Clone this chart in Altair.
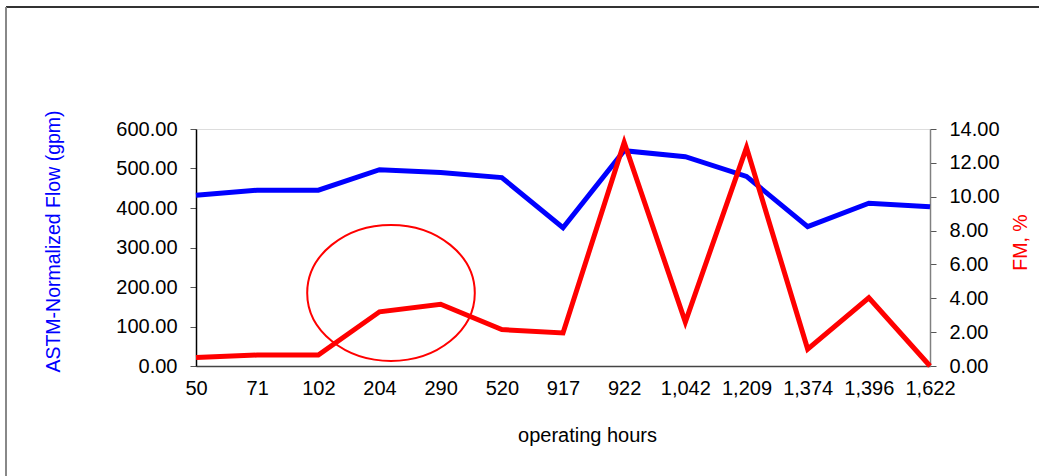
import altair as alt
import pandas as pd

hours = ["50", "71", "102", "204", "290", "520", "917", "922", "1,042", "1,209", "1,374", "1,396", "1,622"]
flow = [432, 445, 445, 497, 490, 477, 350, 545, 530, 480, 353, 412, 403]
fm = [0.50, 0.65, 0.65, 3.20, 3.65, 2.15, 1.95, 13.20, 2.60, 12.90, 1.00, 4.03, 0.00]

# annotation ellipse (data position)
ell_x = ["204"]
ell_y = [185]

df = pd.DataFrame({"hours": hours, "flow": flow, "fm": fm})
ell = pd.DataFrame({"hours": ell_x, "flow": ell_y})
frame_top = pd.DataFrame({"a": [0]})

FONT = "Liberation Sans"
FS = 20

xaxis = alt.Axis(title="operating hours", labelAngle=0, ticks=False,
                 labelOverlap=False,
                 domainColor="#444444", domainWidth=1.5, labelPadding=12,
                 labelFontSize=FS, labelFont=FONT, labelColor="black",
                 titleFontSize=FS, titleFont=FONT, titleFontWeight="normal",
                 titleColor="black", titleX=391, titleY=75,
                 titleBaseline="alphabetic", titleAnchor="start", titleAlign="center")
xscale = alt.Scale(type="point", padding=0)

yleft_axis = alt.Axis(orient="left", title="ASTM-Normalized Flow (gpm)",
                      values=[0, 100, 200, 300, 400, 500, 600], format=".2f",
                      labelOverlap=False, tickCount=7,
                      grid=False, domainColor="black", domainWidth=1.5,
                      tickColor="#555555", tickSize=6, labelPadding=13,
                      labelFontSize=FS, labelFont=FONT, labelColor="black",
                      titleFontSize=19.5, titleFont=FONT, titleFontWeight="normal",
                      titleColor="#0000FF", titleAngle=270, titleX=-143, titleY=112,
                      titleBaseline="middle", titleAlign="center")
yleft_scale = alt.Scale(domain=[0, 600], nice=False)

blue = alt.Chart(df).mark_line(color="#0000FF", strokeWidth=5).encode(
    x=alt.X("hours:N", sort=hours, scale=xscale, axis=xaxis),
    y=alt.Y("flow:Q", scale=yleft_scale, axis=yleft_axis),
)

ellipse = alt.Chart(ell).mark_point(
    shape="M -1 0 A 1 0.811 0 1 0 1 0 A 1 0.811 0 1 0 -1 0 Z",
    size=28090, filled=False, stroke="#FF0000", strokeWidth=2, opacity=1, xOffset=11.5,
).encode(x=alt.X("hours:N", sort=hours, scale=xscale, axis=xaxis),
         y=alt.Y("flow:Q", scale=yleft_scale, axis=yleft_axis))

red = alt.Chart(df).mark_line(color="#FF0000", strokeWidth=5).encode(
    x=alt.X("hours:N", sort=hours, scale=xscale, axis=xaxis),
    y=alt.Y("fm:Q", scale=alt.Scale(domain=[0, 14], nice=False),
            axis=alt.Axis(orient="right", title="FM, %",
                          values=[0, 2, 4, 6, 8, 10, 12, 14], format=".2f",
                          labelOverlap=False,
                          grid=False, domainColor="#808080", domainWidth=1.5,
                          tickColor="#555555", tickSize=6, labelPadding=13,
                          labelFontSize=FS, labelFont=FONT, labelColor="black",
                          titleFontSize=19.5, titleFont=FONT, titleFontWeight="normal",
                          titleColor="#FF0000", titleAngle=270, titleX=90, titleY=113,
                          titleBaseline="middle", titleAlign="center")),
)

top_line = alt.Chart(frame_top).mark_rule(color="#333333", strokeWidth=2).encode(
    x=alt.value(-190), x2=alt.value(843), y=alt.value(-122))
left_line = alt.Chart(frame_top).mark_rule(color="#888888", strokeWidth=2).encode(
    x=alt.value(-190), y=alt.value(-122), y2=alt.value(347))

chart = alt.layer(
    alt.layer(blue, ellipse), red, top_line, left_line
).resolve_scale(y="independent").properties(
    width=734, height=237,
    autosize=alt.AutoSizeParams(type="none"),
    padding={"left": 196, "top": 129, "right": 109, "bottom": 110},
).configure_view(strokeWidth=0, stroke="transparent").configure(background="white")

chart.save("out.html", embed_options={"renderer": "svg", "actions": False})
